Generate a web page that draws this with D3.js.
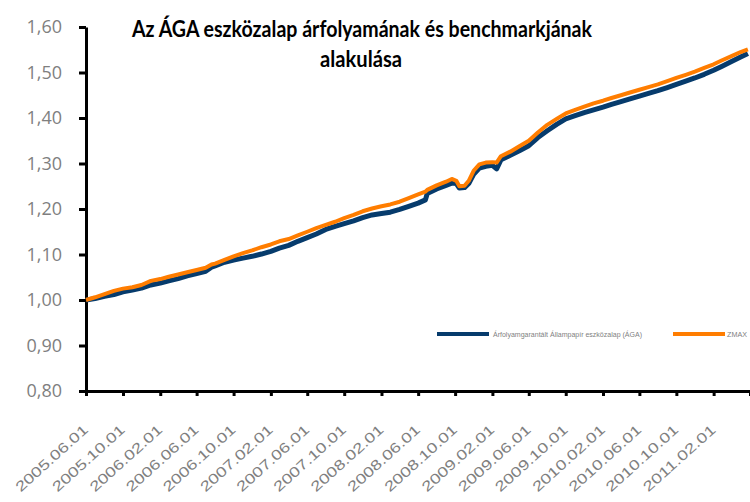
<!DOCTYPE html>
<html>
<head>
<meta charset="utf-8">
<script src="https://cdn.jsdelivr.net/npm/d3@7"></script>
<style>
  body { margin: 0; background: #fff; }
  svg { display: block; }
</style>
</head>
<body>
<svg id="chart"></svg>
<script>
// dates of the readings (yyyy-mm-dd)
let dates = [
  "2005-06-01","2005-07-01","2005-08-01","2005-09-01","2005-10-01","2005-11-01","2005-12-01",
  "2006-01-01","2006-02-01","2006-03-01","2006-04-01","2006-05-01","2006-06-01","2006-07-01","2006-07-20",
  "2006-08-01","2006-09-01","2006-10-01","2006-11-01","2006-12-01",
  "2007-01-01","2007-02-01","2007-03-01","2007-04-01","2007-05-01","2007-06-01","2007-07-01",
  "2007-08-01","2007-09-01","2007-10-01","2007-11-01","2007-12-01",
  "2008-01-01","2008-02-01","2008-03-01","2008-04-01","2008-05-01","2008-06-01","2008-06-25",
  "2008-07-01","2008-08-01","2008-09-01","2008-09-20","2008-10-05","2008-10-15","2008-11-01",
  "2008-11-15","2008-12-01","2008-12-20","2009-01-10","2009-02-01","2009-02-15","2009-03-01",
  "2009-04-01","2009-05-01","2009-06-01","2009-07-01","2009-08-01","2009-09-01","2009-10-01",
  "2009-11-01","2009-12-01","2010-01-01","2010-02-01","2010-03-01","2010-04-01","2010-05-01",
  "2010-06-01","2010-07-01","2010-08-01","2010-09-01","2010-10-01","2010-11-01","2010-12-01",
  "2011-01-01","2011-02-01","2011-03-01","2011-04-01","2011-05-01","2011-05-25"
];

// Árfolyamgarantált Állampapír eszközalap (ÁGA)
let aga = [
  1.000,1.003,1.008,1.012,1.018,1.022,1.026,
  1.033,1.037,1.042,1.047,1.053,1.058,1.063,1.072,
  1.075,1.083,1.088,1.092,1.096,
  1.101,1.107,1.114,1.120,1.129,1.137,1.145,
  1.155,1.162,1.168,1.174,1.181,
  1.187,1.190,1.193,1.199,1.206,1.213,1.220,
  1.234,1.244,1.252,1.257,1.256,1.246,1.247,
  1.256,1.276,1.290,1.294,1.296,1.288,1.308,
  1.318,1.328,1.339,1.357,1.372,1.386,1.398,
  1.405,1.412,1.418,1.424,1.430,1.436,1.442,
  1.448,1.454,1.460,1.467,1.474,1.481,1.488,
  1.496,1.505,1.514,1.524,1.534,1.542
];

// ZMAX benchmark
let zmax = [
  1.000,1.006,1.013,1.020,1.025,1.028,1.033,
  1.042,1.046,1.051,1.056,1.061,1.066,1.071,1.078,
  1.080,1.088,1.096,1.103,1.109,
  1.116,1.122,1.129,1.134,1.142,1.150,1.158,
  1.165,1.172,1.180,1.187,1.195,
  1.201,1.206,1.210,1.216,1.224,1.232,1.238,
  1.242,1.252,1.260,1.266,1.262,1.250,1.251,
  1.262,1.284,1.298,1.302,1.303,1.302,1.316,
  1.326,1.338,1.350,1.368,1.385,1.398,1.410,
  1.418,1.425,1.432,1.438,1.444,1.450,1.456,
  1.462,1.468,1.474,1.481,1.488,1.495,1.502,
  1.510,1.518,1.527,1.536,1.545,1.551
];

let xTickLabels = [
  "2005.06.01","2005.10.01","2006.02.01","2006.06.01","2006.10.01","2007.02.01",
  "2007.06.01","2007.10.01","2008.02.01","2008.06.01","2008.10.01","2009.02.01",
  "2009.06.01","2009.10.01","2010.02.01","2010.06.01","2010.10.01","2011.02.01"
];
let yTicks = [0.8, 0.9, 1.0, 1.1, 1.2, 1.3, 1.4, 1.5, 1.6];

let seriesNames = ["Árfolyamgarantált Állampapír eszközalap (ÁGA)", "ZMAX"];
let colors = ["#063b6c", "#ff7d00"];

let w = 750, h = 502;
let margin = { top: 27, right: 0, bottom: 111, left: 86 };

let parseDate = d3.timeParse("%Y-%m-%d");
let parseLabel = d3.timeParse("%Y.%m.%d");

let svg = d3.select("#chart")
    .attr("width", w)
    .attr("height", h)
    .style("font-family", "'Open Sans', sans-serif");

let xScale = d3.scaleTime()
    .domain([parseDate("2005-06-01"), parseDate("2011-06-01")])
    .range([margin.left, w - margin.right]);

let yScale = d3.scaleLinear()
    .domain([0.8, 1.6])
    .range([h - margin.bottom, margin.top]);

// title
let title = svg.append("g")
    .style("font-family", "Lato, sans-serif")
    .style("font-weight", "bold")
    .style("font-size", "22px")
    .attr("fill", "#000");
title.append("text")
    .attr("x", 132).attr("y", 37)
    .attr("textLength", 460)
    .attr("lengthAdjust", "spacingAndGlyphs")
    .text("Az ÁGA eszközalap árfolyamának és benchmarkjának");
title.append("text")
    .attr("x", 320).attr("y", 67)
    .attr("textLength", 82)
    .attr("lengthAdjust", "spacingAndGlyphs")
    .text("alakulása");

// y axis
let yAxis = d3.axisLeft(yScale)
    .tickValues(yTicks)
    .tickSize(7)
    .tickSizeOuter(0)
    .tickPadding(17)
    .tickFormat(d => d3.format(".2f")(d).replace(".", ","));

let gy = svg.append("g")
    .attr("transform", "translate(" + margin.left + ",0)")
    .call(yAxis);
gy.select(".domain").attr("stroke", "#000").attr("stroke-width", 3);
gy.selectAll(".tick line").attr("stroke", "#000").attr("stroke-width", 3);
gy.selectAll(".tick text")
    .attr("fill", "#7f7f7f")
    .style("font-size", "18px")
    .style("font-family", "'Open Sans', sans-serif");

// x axis
let xAxis = d3.axisBottom(xScale)
    .tickValues(xTickLabels.map(parseLabel).concat([parseDate("2011-06-01")]))
    .tickSize(5)
    .tickSizeOuter(0)
    .tickFormat("");

let gx = svg.append("g")
    .attr("transform", "translate(0," + (h - margin.bottom) + ")")
    .call(xAxis);
gx.select(".domain").attr("stroke", "#000").attr("stroke-width", 3);
gx.selectAll(".tick line").attr("stroke", "#000").attr("stroke-width", 3);

// rotated date labels, anchored at their start so textLength stays put
let labelLen = 92, angle = 42;
let rad = angle * Math.PI / 180;
svg.append("g")
    .selectAll("text")
    .data(xTickLabels)
    .enter()
    .append("text")
    .attr("transform", function (d) {
        let ex = xScale(parseLabel(d)) + 3, ey = h - margin.bottom + 40;
        let sx = ex - labelLen * Math.cos(rad), sy = ey + labelLen * Math.sin(rad);
        return "translate(" + sx + "," + sy + ") rotate(" + (-angle) + ")";
    })
    .attr("fill", "#7f7f7f")
    .attr("textLength", labelLen)
    .attr("lengthAdjust", "spacingAndGlyphs")
    .style("font-size", "14px")
    .style("font-family", "'Liberation Sans', Arial, sans-serif")
    .text(d => d);

// lines
let rows = dates.map(function (d, i) {
    return { date: parseDate(d), aga: aga[i], zmax: zmax[i] };
});

let keys = ["aga", "zmax"];
let widths = [5, 4];

keys.forEach(function (k, i) {
    let line = d3.line()
        .x(d => xScale(d.date))
        .y(d => yScale(d[k]));
    svg.append("path")
        .datum(rows)
        .attr("fill", "none")
        .attr("stroke", colors[i])
        .attr("stroke-width", widths[i])
        .attr("stroke-linejoin", "round")
        .attr("d", line);
});

// legend
let legendPos = [{ x: 437, tx: 493, len: 149 }, { x: 673, tx: 727, len: 20 }];
let legend = svg.append("g");
seriesNames.forEach(function (name, i) {
    legend.append("line")
        .attr("x1", legendPos[i].x).attr("x2", legendPos[i].x + 52)
        .attr("y1", 334).attr("y2", 334)
        .attr("stroke", colors[i])
        .attr("stroke-width", 4);
    legend.append("text")
        .attr("x", legendPos[i].tx).attr("y", 336.5)
        .attr("fill", "#7f7f7f")
        .attr("textLength", legendPos[i].len)
        .attr("lengthAdjust", "spacingAndGlyphs")
        .style("font-size", "7px")
        .style("font-family", "'Liberation Sans', Arial, sans-serif")
        .text(name);
});
</script>
</body>
</html>
